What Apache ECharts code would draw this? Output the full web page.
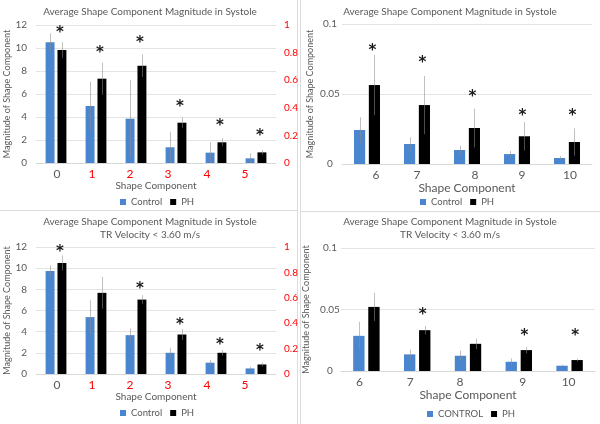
<!DOCTYPE html>
<html><head><meta charset="utf-8">
<script src="https://cdn.jsdelivr.net/npm/echarts@6/dist/echarts.min.js"></script>
<style>html,body{margin:0;padding:0;background:#fff}#c{width:600px;height:424px}</style>
</head><body><div id="c"></div>
<script>
// ================= DATA =================
const compLow = ['0', '1', '2', '3', '4', '5'];
const compHigh = ['6', '7', '8', '9', '10'];
// component 0 is read on the left axis (0-12), components 1-5 on the red right axis (0-1)
const axisOfLow = [0, 1, 1, 1, 1, 1];

// Panel A: systole, components 0-5
const sysCtrl = [10.5, 0.413, 0.321, 0.114, 0.075, 0.034];
const sysCtrlErr = [0.78, 0.176, 0.28, 0.113, 0.075, 0.036];
const sysPH = [9.83, 0.611, 0.705, 0.292, 0.15, 0.077];
const sysPHErr = [0.67, 0.116, 0.082, 0.039, 0.029, 0.017];
const sysStar = [11.57, 0.819, 0.891, 0.428, 0.292, 0.217];

// Panel B: systole, components 6-10
const sysHiCtrl = [0.0243, 0.0143, 0.0100, 0.0071, 0.0043];
const sysHiCtrlErr = [0.0091, 0.0047, 0.0031, 0.0022, 0.0014];
const sysHiPH = [0.0564, 0.0421, 0.0257, 0.0198, 0.0157];
const sysHiPHErr = [0.0215, 0.0208, 0.0138, 0.0102, 0.0098];
const sysHiStar = [0.0826, 0.0743, 0.0498, 0.0364, 0.0362];

// Panel C: TR velocity < 3.60 m/s, components 0-5
const trCtrl = [9.74, 0.448, 0.306, 0.167, 0.089, 0.044];
const trCtrlErr = [0.53, 0.133, 0.052, 0.04, 0.021, 0.013];
const trPH = [10.49, 0.639, 0.586, 0.311, 0.167, 0.075];
const trPHErr = [0.71, 0.125, 0.034, 0.042, 0.022, 0.016];
const trStar = [11.78, null, 0.694, 0.411, 0.248, 0.201];

// Panel D: TR velocity < 3.60 m/s, components 6-10
const trHiCtrl = [0.0286, 0.0135, 0.0124, 0.0075, 0.0043];
const trHiCtrlErr = [0.0114, 0.004, 0.0041, 0.0027, 0.0008];
const trHiPH = [0.0521, 0.0332, 0.0221, 0.017, 0.0089];
const trHiPHErr = [0.0114, 0.0035, 0.0043, 0.0025, 0.0011];
const trHiStar = [null, 0.0481, null, 0.0305, 0.0305];

const leftTicks = {min: 0, max: 12, interval: 2};
const rightTicks = {min: 0, max: 1, interval: 0.2};
const hiTicks = {min: 0, max: 0.1, interval: 0.05};

const titleMain = 'Average Shape Component Magnitude in Systole';
const titleSub = 'TR Velocity < 3.60 m/s';
const yName = 'Magnitude of Shape Component';
const xName = 'Shape Component';

// ================= STYLE =================
const BLUE = '#4a86cf', BLACK = '#000000', GRAY = '#595959', RED = '#ff0000';
const GRID_C = '#e4e4e4', ERR_C = 'rgba(140,140,140,0.55)';
const FONT = 'Lato';
const CAT_GAP = 0.48, BAR_GAP = 0.33;
// manual label nudges (px, + = right) as in the original figure
const shiftLow = [1, -4, -6, -8, -9, -11];
const shiftHiA = [9, 0, 8, 5, 3];
const shiftHiD = [-7, -7, -8, 4, -1];

function overlayRender(params, api) {
  const c = api.value(0);
  const band = api.size([1, 0])[0];
  const w = band * (1 - CAT_GAP) / (2 + BAR_GAP);
  const off = w * (1 + BAR_GAP) / 2;
  const cx = api.coord([c, 0])[0];
  const kids = [];
  [[api.value(1), api.value(2), -1], [api.value(3), api.value(4), 1]].forEach(function (t) {
    const v = t[0], e = t[1];
    const x = Math.round(cx + t[2] * off) + 0.5;
    const yTop = api.coord([c, v + e])[1];
    const yBot = api.coord([c, Math.max(v - e, 0)])[1];
    kids.push({type: 'line', shape: {x1: x, y1: yTop, x2: x, y2: yBot}, style: {stroke: ERR_C, lineWidth: 1}});
  });
  const st = api.value(5);
  if (isFinite(st)) {
    kids.push({type: 'text', x: cx + off - 2, y: api.coord([c, st])[1] + 3,
      style: {text: '*', fill: '#1a1a1a', font: 'bold 15px "DejaVu Sans"', align: 'center', verticalAlign: 'middle'}});
  }
  return {type: 'group', children: kids};
}

function overlaySeries(xi, yi, idxs, ctrl, ce, ph, pe, star) {
  return {
    type: 'custom', xAxisIndex: xi, yAxisIndex: yi, silent: true, z: 5,
    renderItem: overlayRender,
    encode: {x: 0, y: 1},
    data: idxs.map(i => [i, ctrl[i], ce[i], ph[i], pe[i], star[i] == null ? NaN : star[i]])
  };
}

function barBase(name, xi, yi, color, data, stack) {
  return {type: 'bar', name: name, xAxisIndex: xi, yAxisIndex: yi, stack: stack, data: data,
    itemStyle: {color: color}, barCategoryGap: (CAT_GAP * 100) + '%', barGap: (BAR_GAP * 100) + '%',
    emphasis: {disabled: true}};
}

function lowPanelSeries(xi, yL, yR, ctrl, ce, ph, pe, star) {
  const out = [];
  [[yL, 0], [yR, 1]].forEach(function (p) {
    const yi = p[0], ax = p[1];
    const pick = arr => arr.map((v, i) => axisOfLow[i] === ax ? v : '-');
    out.push(barBase('Control', xi, yi, BLUE, pick(ctrl), 'c' + xi));
    out.push(barBase('PH', xi, yi, BLACK, pick(ph), 'p' + xi));
  });
  [[yL, 0], [yR, 1]].forEach(function (p) {
    const idxs = axisOfLow.map((a, i) => a === p[1] ? i : -1).filter(i => i >= 0);
    out.push(overlaySeries(xi, p[0], idxs, ctrl, ce, ph, pe, star));
  });
  return out;
}

function hiPanelSeries(xi, yi, ctrl, ce, ph, pe, star) {
  return [
    barBase('Control', xi, yi, BLUE, ctrl, 'c' + xi),
    barBase('PH', xi, yi, BLACK, ph, 'p' + xi),
    overlaySeries(xi, yi, ctrl.map((v, i) => i), ctrl, ce, ph, pe, star)
  ];
}

function richShift(shifts, colorFn, size) {
  const rich = {};
  shifts.forEach(function (s, i) {
    rich['s' + i] = {color: colorFn(i), fontSize: size, fontFamily: FONT,
      padding: s >= 0 ? [0, 0, 0, 2 * s] : [0, -2 * s, 0, 0]};
  });
  return rich;
}

function catAxis(gi, cats, shifts, colorFn, nameSize, nameGap) {
  return {
    type: 'category', gridIndex: gi, data: cats,
    axisTick: {show: false},
    axisLine: {lineStyle: {color: '#d9d9d9'}},
    axisLabel: {margin: 5, formatter: (v, i) => '{s' + i + '|' + v + '}', rich: richShift(shifts, colorFn, 12)},
    name: xName, nameLocation: 'middle', nameGap: nameGap,
    nameTextStyle: {fontSize: nameSize, color: GRAY, fontFamily: FONT}
  };
}

function valAxis(gi, ticks, opts) {
  return Object.assign({
    type: 'value', gridIndex: gi, min: ticks.min, max: ticks.max, interval: ticks.interval,
    axisLine: {show: false}, axisTick: {show: false},
    splitLine: {lineStyle: {color: GRID_C}}
  }, opts);
}

const lowColor = i => i === 0 ? GRAY : RED;
const grayFn = () => GRAY;

const option = {
  animation: false,
  textStyle: {fontFamily: FONT},
  title: [
    {text: titleMain, left: 150, top: 5},
    {text: titleMain, left: 450, top: 5},
    {text: titleMain + '\n' + titleSub, left: 150, top: 215},
    {text: titleMain + '\n' + titleSub, left: 450, top: 215}
  ].map(t => Object.assign(t, {textAlign: 'center', padding: 0,
    textStyle: {fontSize: 10, fontWeight: 'normal', color: GRAY, fontFamily: FONT, lineHeight: 13.4}})),
  legend: [
    {left: 120, top: 197},
    {left: 420, top: 197},
    {left: 120, top: 408},
    {left: 427, top: 409, formatter: n => n.toUpperCase()}
  ].map(l => Object.assign({data: ['Control', 'PH'], icon: 'rect', itemWidth: 6, itemHeight: 6, itemGap: 8,
    padding: 0, selectedMode: false, textStyle: {fontSize: 9.5, color: GRAY, fontFamily: FONT}}, l)),
  grid: [
    {left: 36, top: 25, width: 240, height: 138},
    {left: 342, top: 24, width: 250, height: 140},
    {left: 36, top: 247, width: 240, height: 127},
    {left: 341, top: 248, width: 254, height: 123}
  ],
  xAxis: [
    catAxis(0, compLow, shiftLow, lowColor, 10, 17),
    catAxis(1, compHigh, shiftHiA, grayFn, 12, 13),
    catAxis(2, compLow, shiftLow, lowColor, 10, 16),
    catAxis(3, compHigh, shiftHiD, grayFn, 12, 17)
  ],
  yAxis: [
    valAxis(0, leftTicks, {axisLabel: {color: GRAY, fontSize: 10, margin: 9},
      name: yName, nameLocation: 'middle', nameGap: 22, nameTextStyle: {fontSize: 9, color: GRAY}}),
    valAxis(0, rightTicks, {position: 'right', splitLine: {show: false}, axisLabel: {color: RED, fontSize: 10, margin: 8}}),
    valAxis(1, hiTicks, {axisLabel: {color: GRAY, fontSize: 10, margin: 12, align: 'center'},
      name: yName, nameLocation: 'middle', nameGap: 27, nameTextStyle: {fontSize: 9, color: GRAY}}),
    valAxis(2, leftTicks, {axisLabel: {color: GRAY, fontSize: 10, margin: 9},
      name: yName, nameLocation: 'middle', nameGap: 24, nameTextStyle: {fontSize: 9, color: GRAY}}),
    valAxis(2, rightTicks, {position: 'right', splitLine: {show: false}, axisLabel: {color: RED, fontSize: 10, margin: 8}}),
    valAxis(3, hiTicks, {axisLabel: {color: GRAY, fontSize: 10, margin: 11, align: 'center'},
      name: yName, nameLocation: 'middle', nameGap: 30, nameTextStyle: {fontSize: 9, color: GRAY}})
  ],
  series: [].concat(
    lowPanelSeries(0, 0, 1, sysCtrl, sysCtrlErr, sysPH, sysPHErr, sysStar),
    hiPanelSeries(1, 2, sysHiCtrl, sysHiCtrlErr, sysHiPH, sysHiPHErr, sysHiStar),
    lowPanelSeries(2, 3, 4, trCtrl, trCtrlErr, trPH, trPHErr, trStar),
    hiPanelSeries(3, 5, trHiCtrl, trHiCtrlErr, trHiPH, trHiPHErr, trHiStar)
  ),
  graphic: [
    {type: 'line', shape: {x1: 297.5, y1: 0, x2: 297.5, y2: 424}, style: {stroke: '#dcdcdc', lineWidth: 1}},
    {type: 'line', shape: {x1: 300.5, y1: 0, x2: 300.5, y2: 424}, style: {stroke: '#dcdcdc', lineWidth: 1}},
    {type: 'line', shape: {x1: 0, y1: 210.5, x2: 297.5, y2: 210.5}, style: {stroke: '#dcdcdc', lineWidth: 1}},
    {type: 'line', shape: {x1: 300.5, y1: 211.5, x2: 600, y2: 211.5}, style: {stroke: '#dcdcdc', lineWidth: 1}}
  ]
};

echarts.init(document.getElementById('c'), null, {renderer: 'canvas'}).setOption(option);
</script>
</body></html>
